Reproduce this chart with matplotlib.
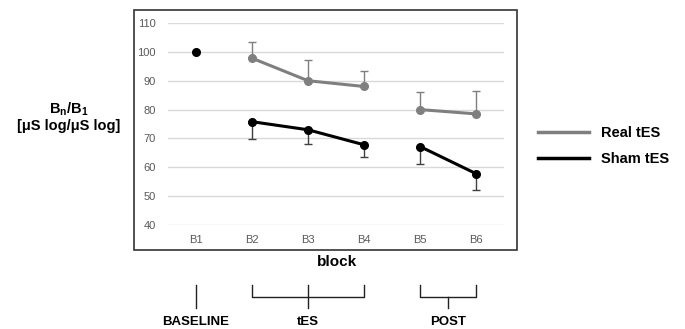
import matplotlib.pyplot as plt
import matplotlib.transforms as mtransforms
from matplotlib.lines import Line2D
from matplotlib.patches import Rectangle
import numpy as np

plt.rcParams['font.family'] = ['Liberation Sans', 'DejaVu Sans']
plt.rcParams['mathtext.fontset'] = 'custom'
plt.rcParams['mathtext.rm'] = 'Liberation Sans'
plt.rcParams['mathtext.bf'] = 'Liberation Sans:bold'

blocks = ["B1", "B2", "B3", "B4", "B5", "B6"]
baseline = 100.0
real_vals = [np.nan, 97.8, 90.0, 88.0, 80.0, 78.5]
real_err_up = [0, 5.7, 7.3, 5.5, 6.2, 8.0]
sham_vals = [np.nan, 75.8, 73.0, 67.8, 67.2, 57.8]
sham_err_down = [0, 6.0, 5.0, 4.1, 6.2, 5.8]
segments = [[1, 2, 3], [4, 5]]  # lines are not joined between phases
phases = [("BASELINE", [0]), ("tES", [1, 2, 3]), ("POST", [4, 5])]

W, H = 685, 329
fig = plt.figure(figsize=(W / 100, H / 100), dpi=100)

def px(x0, y0, x1, y1):
    return [x0 / W, 1 - y1 / H, (x1 - x0) / W, (y1 - y0) / H]

# outer frame around plot
fig.patches.append(Rectangle((134 / W, 1 - 250 / H), (517 - 134) / W, (250 - 10) / H,
                             transform=fig.transFigure, fill=False,
                             edgecolor='#333333', lw=1.2))

ax = fig.add_axes(px(168, 23, 504, 225))
x = np.arange(len(blocks))
real_c = '#7f7f7f'
sham_c = '#000000'

for seg in segments:
    xs = x[seg]
    ax.plot(xs, [real_vals[i] for i in seg], color=real_c, lw=2.2, marker='o', ms=5.5, zorder=3)
    ax.errorbar(xs, [real_vals[i] for i in seg],
                yerr=[np.zeros(len(seg)), [real_err_up[i] for i in seg]],
                fmt='none', ecolor=real_c, elinewidth=1, capsize=3, capthick=1, zorder=2)
    ax.plot(xs, [sham_vals[i] for i in seg], color=sham_c, lw=2.2, marker='o', ms=5.5, zorder=4)
    ax.errorbar(xs, [sham_vals[i] for i in seg],
                yerr=[[sham_err_down[i] for i in seg], np.zeros(len(seg))],
                fmt='none', ecolor='#404040', elinewidth=1, capsize=3, capthick=1, zorder=2)
ax.plot([x[0]], [baseline], 'o', color=sham_c, ms=5.5, zorder=4)

ax.set_xlim(-0.5, len(blocks) - 0.5)
ax.set_ylim(40, 110)
ax.set_yticks(range(40, 111, 10))
ax.set_xticks(x)
ax.set_xticklabels(blocks)
ax.yaxis.grid(True, color='#d9d9d9', lw=1)
ax.set_axisbelow(True)
for s in ax.spines.values():
    s.set_visible(False)
ax.tick_params(length=0, labelsize=8, labelcolor='#595959')
ax.tick_params(axis='y', pad=9)
ax.tick_params(axis='x', pad=7)

fig.text(337 / W, 1 - 262 / H, "block", ha='center', va='center', fontsize=11, fontweight='bold')
fig.text(69 / W, 1 - 117 / H, "B$_\\mathbf{n}$/B$_\\mathbf{1}$\n[μS log/μS log]", ha='center',
         va='center', fontsize=10.5, fontweight='bold', linespacing=1.1)

handles = [Line2D([], [], color=real_c, lw=2.5), Line2D([], [], color=sham_c, lw=2.5)]
fig.legend(handles, ["Real tES", "Sham tES"], loc='center left',
           bbox_to_anchor=(525 / W, 1 - 146 / H), frameon=False, handlelength=3.5,
           labelspacing=0.8, prop={'weight': 'bold', 'size': 10.5})

# phase brackets below the axis
tr = mtransforms.blended_transform_factory(ax.transData, fig.transFigure)
top, mid, low = 1 - 285 / H, 1 - 297 / H, 1 - 308 / H
for name, idx in phases:
    c = np.mean(idx)
    kw = dict(transform=tr, color='#222222', lw=1, clip_on=False)
    if len(idx) == 1:
        fig.add_artist(Line2D([c, c], [top, low], **kw))
    else:
        fig.add_artist(Line2D([idx[0], idx[0], idx[-1], idx[-1]], [top, mid, mid, top], **kw))
        stem_top = top if len(idx) % 2 == 1 else mid
        fig.add_artist(Line2D([c, c], [stem_top, low], **kw))
    fig.text(c, 1 - 322 / H, name, transform=tr, ha='center', va='center',
             fontsize=9.5, fontweight='bold')

fig.savefig("out.png", dpi=100)
